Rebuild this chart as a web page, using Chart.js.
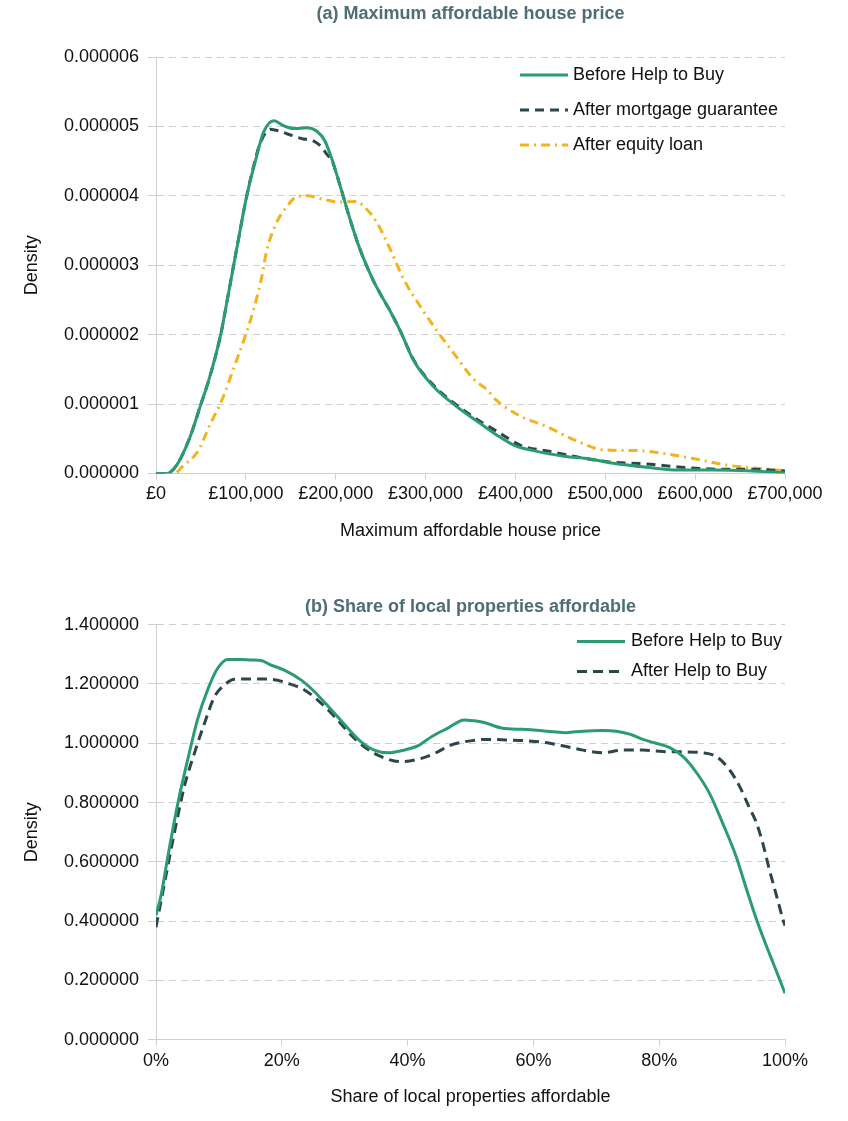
<!DOCTYPE html>
<html>
<head>
<meta charset="utf-8">
<script src="https://cdn.jsdelivr.net/npm/chart.js@4"></script>
<style>
  body { margin: 0; background: #fff; }
  canvas { position: absolute; left: 0; }
  #chartA { top: 0; }
  #chartB { top: 580px; }
</style>
</head>
<body>
<canvas id="chartA" width="848" height="560"></canvas>
<canvas id="chartB" width="848" height="541"></canvas>
<script>
// (a) x in £ thousands, y in millionths
const beforePriceK = [0, 12, 23, 38, 49, 60, 72, 80, 90, 101, 112, 119.5, 131, 142, 153, 168, 179, 188, 196, 205, 216, 227, 240, 250, 261, 272, 287, 309, 335, 361, 379, 398, 420, 454, 483, 509, 546, 583, 621, 658, 700];
const beforeDensity = [0, 0, 0.12, 0.53, 0.96, 1.40, 2.0, 2.55, 3.25, 4.0, 4.57, 4.91, 5.08, 5.01, 4.97, 4.98, 4.93, 4.79, 4.52, 4.14, 3.66, 3.23, 2.83, 2.58, 2.33, 2.05, 1.62, 1.25, 0.96, 0.72, 0.556, 0.41, 0.33, 0.25, 0.21, 0.147, 0.09, 0.05, 0.05, 0.04, 0.01];

const mortgagePriceK = [0, 12, 23, 38, 49, 60, 72, 80, 90, 101, 110, 116, 127, 138, 149, 164, 171, 183, 190, 196, 205, 216, 227, 240, 250, 261, 272, 287, 309, 335, 361, 383, 405, 442, 468, 502, 546, 591, 635, 665, 700];
const mortgageDensity = [0, 0, 0.12, 0.53, 0.96, 1.40, 2.0, 2.55, 3.25, 4.0, 4.5, 4.76, 4.96, 4.93, 4.88, 4.82, 4.81, 4.72, 4.60, 4.50, 4.14, 3.66, 3.23, 2.83, 2.58, 2.33, 2.05, 1.63, 1.27, 0.98, 0.75, 0.58, 0.41, 0.31, 0.24, 0.17, 0.137, 0.084, 0.06, 0.06, 0.036];

const equityPriceK = [0, 20, 31, 46, 60, 75, 86.5, 98, 109, 118, 123, 134, 146, 157, 168, 186, 205, 222, 235, 246, 261, 276, 294, 313, 331.5, 354, 369, 377.5, 405, 435, 468, 498, 535, 569, 602, 635.5, 669, 691, 700];
const equityDensity = [0, 0, 0.12, 0.31, 0.70, 1.11, 1.52, 1.93, 2.38, 2.85, 3.2, 3.61, 3.85, 3.99, 4.00, 3.95, 3.91, 3.92, 3.80, 3.61, 3.22, 2.79, 2.41, 2.05, 1.73, 1.35, 1.20, 1.07, 0.83, 0.675, 0.47, 0.34, 0.33, 0.28, 0.205, 0.12, 0.075, 0.05, 0.04];

// (b) x in percent
const beforeShare = [0, 0.83, 1.9, 3.5, 5.1, 6.6, 8.2, 9.8, 11.4, 13.5, 15.1, 16.7, 18.3, 20.4, 23.1, 25.2, 27.9, 30.5, 32.6, 34.7, 36.9, 39.0, 41.6, 43.8, 46.4, 49.0, 50.6, 52.0, 55.1, 58.3, 61.0, 63.1, 65.2, 67.9, 71.0, 73.2, 75.3, 77.4, 79.5, 81.6, 83.8, 86.0, 88.0, 90.1, 92.2, 94.0, 95.4, 96.8, 98.1, 100];
const beforeShareDensity = [0.42, 0.49, 0.62, 0.80, 0.95, 1.08, 1.18, 1.253, 1.283, 1.283, 1.281, 1.279, 1.264, 1.247, 1.213, 1.174, 1.112, 1.051, 1.005, 0.977, 0.968, 0.975, 0.991, 1.022, 1.051, 1.079, 1.076, 1.071, 1.051, 1.047, 1.043, 1.039, 1.036, 1.041, 1.043, 1.041, 1.031, 1.013, 1.0, 0.986, 0.955, 0.899, 0.831, 0.730, 0.62, 0.50, 0.41, 0.33, 0.26, 0.157];

const afterShare = [0, 1.35, 2.9, 4.5, 6.1, 7.7, 9.3, 10.9, 12.5, 15.7, 18.3, 21.0, 23.6, 25.7, 28.4, 31.0, 33.1, 35.8, 39.0, 42.2, 44.3, 46.9, 49.0, 52.5, 56.2, 59.4, 62.6, 65.2, 67.9, 71.0, 74.2, 77.4, 80.6, 83.8, 86.9, 89.1, 91.2, 92.8, 94.4, 95.4, 96.5, 97.5, 98.6, 99.7, 100];
const afterShareDensity = [0.38, 0.528, 0.696, 0.854, 0.966, 1.067, 1.157, 1.197, 1.216, 1.217, 1.216, 1.202, 1.18, 1.146, 1.09, 1.028, 0.988, 0.955, 0.938, 0.949, 0.966, 0.994, 1.005, 1.013, 1.011, 1.008, 1.0, 0.989, 0.977, 0.968, 0.977, 0.977, 0.972, 0.971, 0.968, 0.955, 0.910, 0.854, 0.78, 0.735, 0.66, 0.575, 0.49, 0.404, 0.385];

const GREEN = '#2a9c70';
const DARK = '#2c464e';
const ORANGE = '#f2b31c';
const GRID = '#d0d0d0';
const FONT = '"Liberation Sans", Arial, sans-serif';

Chart.defaults.font.family = FONT;
Chart.defaults.font.size = 18;
Chart.defaults.color = '#111';

function pts(xs, ys, xMul, yMul) {
  return xs.map((x, i) => ({ x: x * xMul, y: ys[i] * yMul }));
}

// title centred over the plot area + legend drawn inside it, like the original
function decorPlugin(title, titleY, items, x0, x1, tx) {
  return {
    id: 'decor',
    afterDraw(chart) {
      const ctx = chart.ctx;
      const area = chart.chartArea;
      ctx.save();
      ctx.fillStyle = '#4f6d77';
      ctx.font = 'bold 18px ' + FONT;
      ctx.textAlign = 'center';
      ctx.textBaseline = 'middle';
      ctx.fillText(title, (area.left + area.right) / 2, titleY);

      items.forEach(it => {
        ctx.strokeStyle = it.color;
        ctx.lineWidth = 3;
        ctx.setLineDash(it.dash);
        ctx.beginPath();
        ctx.moveTo(x0, it.y);
        ctx.lineTo(x1, it.y);
        ctx.stroke();
        ctx.setLineDash([]);
        ctx.fillStyle = '#111';
        ctx.font = '18px ' + FONT;
        ctx.textAlign = 'left';
        ctx.fillText(it.label, tx, it.y);
      });
      ctx.restore();
    }
  };
}

function lineSet(label, data, color, dash) {
  return {
    label: label,
    data: data,
    borderColor: color,
    borderWidth: 3,
    borderDash: dash,
    pointRadius: 0,
    fill: false,
    cubicInterpolationMode: 'monotone'
  };
}

function yAxis(max, step) {
  return {
    min: 0, max: max,
    afterFit: s => { s.width = 156; },
    ticks: { stepSize: step, padding: 9, callback: v => Number(v).toFixed(6), color: '#111' },
    grid: { color: GRID, tickColor: GRID, tickLength: 8, lineWidth: 1 },
    border: { color: GRID, dash: [7, 5] },
    title: { display: true, text: 'Density', padding: { top: 21 }, color: '#111' }
  };
}

const c1 = document.getElementById('chartA');

new Chart(c1, {
  type: 'line',
  data: {
    datasets: [
      lineSet('Before Help to Buy', pts(beforePriceK, beforeDensity, 1000, 1e-6), GREEN, []),
      lineSet('After mortgage guarantee', pts(mortgagePriceK, mortgageDensity, 1000, 1e-6), DARK, [9, 6]),
      lineSet('After equity loan', pts(equityPriceK, equityDensity, 1000, 1e-6), ORANGE, [9, 5, 2, 5])
    ]
  },
  options: {
    responsive: false,
    animation: false,
    layout: { padding: { left: 0, right: 63, top: 57, bottom: 0 } },
    plugins: {
      legend: { display: false },
      tooltip: { enabled: false },
      title: { display: false }
    },
    scales: {
      x: {
        type: 'linear', min: 0, max: 700000,
        afterFit: s => { s.height = 86.5; },
        ticks: { stepSize: 100000, padding: 4, maxRotation: 0, color: '#111',
          callback: v => '£' + Number(v).toLocaleString('en-GB') },
        grid: { drawOnChartArea: false, color: GRID, tickColor: GRID, tickLength: 6 },
        border: { color: GRID },
        title: { display: true, text: 'Maximum affordable house price', padding: { bottom: 18 }, color: '#111' }
      },
      y: yAxis(0.000006, 0.000001)
    }
  },
  plugins: [decorPlugin('(a) Maximum affordable house price', 14, [
    { label: 'Before Help to Buy', color: GREEN, dash: [], y: 75 },
    { label: 'After mortgage guarantee', color: DARK, dash: [9, 6], y: 110 },
    { label: 'After equity loan', color: ORANGE, dash: [9, 5, 2, 5], y: 145 }
  ], 520, 568, 573)]
});

const c2 = document.getElementById('chartB');

new Chart(c2, {
  type: 'line',
  data: {
    datasets: [
      lineSet('Before Help to Buy', pts(beforeShare, beforeShareDensity, 1, 1), GREEN, []),
      lineSet('After Help to Buy', pts(afterShare, afterShareDensity, 1, 1), DARK, [10, 6])
    ]
  },
  options: {
    responsive: false,
    animation: false,
    layout: { padding: { left: 0, right: 63, top: 44.7, bottom: 0 } },
    plugins: {
      legend: { display: false },
      tooltip: { enabled: false },
      title: { display: false }
    },
    scales: {
      x: {
        type: 'linear', min: 0, max: 100,
        afterFit: s => { s.height = 81.2; },
        ticks: { stepSize: 20, padding: 4, maxRotation: 0, color: '#111', callback: v => v + '%' },
        grid: { drawOnChartArea: false, color: GRID, tickColor: GRID, tickLength: 6 },
        border: { color: GRID },
        title: { display: true, text: 'Share of local properties affordable', padding: { bottom: 13 }, color: '#111' }
      },
      y: yAxis(1.4, 0.2)
    }
  },
  plugins: [decorPlugin('(b) Share of local properties affordable', 27, [
    { label: 'Before Help to Buy', color: GREEN, dash: [], y: 61.5 },
    { label: 'After Help to Buy', color: DARK, dash: [10, 6], y: 91.5 }
  ], 577, 625, 631)]
});
</script>
</body>
</html>
